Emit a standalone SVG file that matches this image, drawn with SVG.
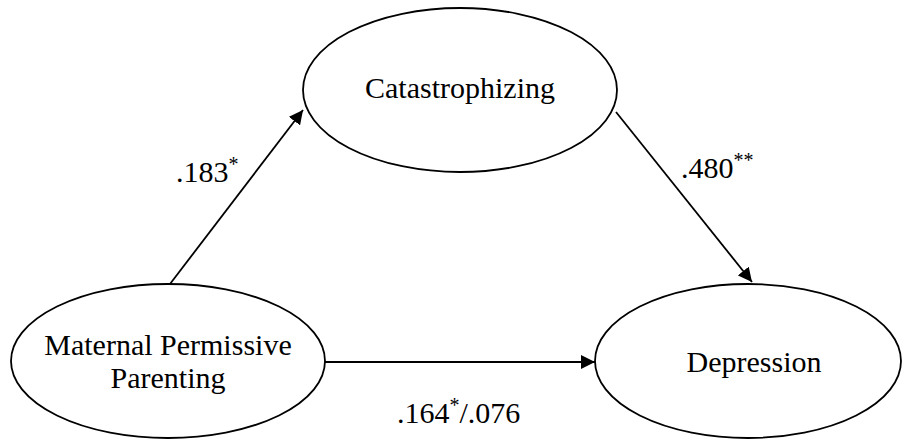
<svg xmlns="http://www.w3.org/2000/svg" width="902" height="442" viewBox="0 0 902 442">
<defs>
<marker id="ah" viewBox="0 0 10 10" refX="10" refY="5" markerWidth="14" markerHeight="14" markerUnits="userSpaceOnUse" orient="auto">
<path d="M0,0 L10,5 L0,10 z" fill="#000"/>
</marker>
</defs>
<style>
.node{fill:#fff;stroke:#000;stroke-width:1.8}
.t{font-family:"Liberation Serif","Times New Roman",serif;font-size:30px;fill:#000;text-anchor:middle}
.l{font-family:"Liberation Serif","Times New Roman",serif;font-size:30px;fill:#000}
.sup{font-size:20px}
.edge{stroke:#000;stroke-width:1.8;fill:none;marker-end:url(#ah)}
</style>
<rect width="902" height="442" fill="#fff"/>
<g id="connectors">
<line class="edge" x1="170" y1="284" x2="303" y2="110"/>
<line class="edge" x1="616" y1="112" x2="752" y2="282"/>
<line class="edge" x1="325" y1="362" x2="595" y2="362"/>
</g>
<g id="catastrophizing">
<ellipse class="node" cx="460" cy="90" rx="157" ry="82"/>
<text class="t" x="460" y="98">Catastrophizing</text>
</g>
<g id="maternal">
<ellipse class="node" cx="168" cy="361" rx="157" ry="77"/>
<text class="t" x="168" y="355">Maternal Permissive</text>
<text class="t" x="168" y="388">Parenting</text>
</g>
<g id="depression">
<ellipse class="node" cx="748" cy="361" rx="153" ry="77"/>
<text class="t" x="754" y="372">Depression</text>
</g>
<g id="labels">
<text class="l" x="176" y="182">.183<tspan class="sup" dy="-11">*</tspan></text>
<text class="l" x="681" y="178">.480<tspan class="sup" dy="-11">**</tspan></text>
<text class="l" x="397" y="423">.164<tspan class="sup" dy="-11">*</tspan><tspan dy="11">/.076</tspan></text>
</g>
</svg>
